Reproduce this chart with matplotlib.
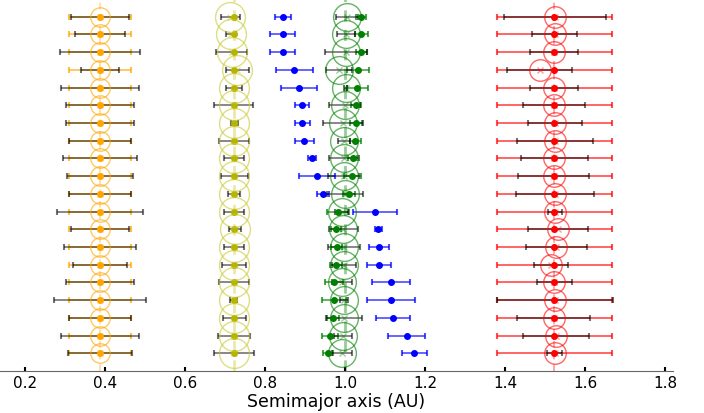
import numpy as np
import matplotlib
matplotlib.use('Agg')
import matplotlib.pyplot as plt

# true semimajor axes (AU)
a_true = {'Mercury': 0.3875, 'Venus': 0.7225, 'Earth': 1.0, 'Mars': 1.5233}

# Mercury: fitted centre is on the true value, prior bar +-20%
merc_prior = 0.0775
merc_fit_err = [0.0715, 0.0615, 0.0995, 0.0475, 0.098, 0.086, 0.085, 0.077, 0.0915, 0.0815,
                0.0775, 0.1085, 0.072, 0.0905, 0.068, 0.0855, 0.1145, 0.0775, 0.098, 0.081]

# Venus
venus_fit = [0.7133, 0.7146, 0.7167, 0.7308, 0.7213, 0.7213, 0.7229, 0.7225, 0.723, 0.723,
             0.7217, 0.723, 0.7238, 0.7225, 0.7225, 0.7225, 0.722, 0.7233, 0.722, 0.723]
venus_fit_err = [0.023, 0.012, 0.038, 0.029, 0.02, 0.048, 0.009, 0.037, 0.025, 0.034,
                 0.015, 0.025, 0.015, 0.024, 0.03, 0.037, 0.009, 0.029, 0.04, 0.05]

# extra (blue) body
blue_a = [0.844, 0.844, 0.844, 0.873, 0.885, 0.893, 0.893, 0.898, 0.918, 0.93,
          0.944, 1.075, 1.083, 1.085, 1.085, 1.115, 1.115, 1.12, 1.154, 1.173]
blue_err = [0.02, 0.031, 0.032, 0.046, 0.044, 0.0175, 0.019, 0.024, 0.01, 0.044,
            0.015, 0.055, 0.009, 0.025, 0.029, 0.0475, 0.061, 0.043, 0.047, 0.031]

# Earth
earth_a = [1.039, 1.041, 1.041, 1.033, 1.031, 1.0275, 1.0275, 1.026, 1.019, 1.018,
           1.01, 0.983, 0.9775, 0.979, 0.9775, 0.973, 0.9725, 0.971, 0.9625, 0.958]
earth_err = [0.0125, 0.016, 0.014, 0.027, 0.026, 0.012, 0.016, 0.013, 0.012, 0.021,
             0.015, 0.027, 0.012, 0.014, 0.014, 0.022, 0.03, 0.015, 0.02, 0.013]
earth_fit = [1.005, 1.0033, 1.0017, 0.985, 1.0017, 0.999, 0.996, 0.9975, 0.9983, 0.9967,
             1.0, 0.9917, 0.9958, 0.9983, 0.9975, 0.9925, 0.9975, 0.9975, 0.9958, 0.9933]
earth_fit_err = [0.028, 0.0225, 0.0525, 0.033, 0.004, 0.039, 0.05, 0.015, 0.0375, 0.039,
                 0.045, 0.016, 0.037, 0.04, 0.03, 0.025, 0.01, 0.046, 0.0225, 0.025]

# Mars
mars_prior = 0.143
mars_fit = [1.5246, 1.5242, 1.5225, 1.4867, 1.5233, 1.5225, 1.5242, 1.5242, 1.5233, 1.5221,
            1.5246, 1.5242, 1.5317, 1.5279, 1.5142, 1.5233, 1.525, 1.5217, 1.5275, 1.5238]
mars_fit_err = [0.127, 0.057, 0.06, 0.0817, 0.06, 0.0767, 0.0675, 0.095, 0.0833, 0.0888,
                0.098, 0.0175, 0.075, 0.076, 0.0425, 0.043, 0.146, 0.091, 0.083, 0.018]

n = len(blue_a)
y = np.arange(n, 0, -1)

fig = plt.figure(figsize=(7.04, 4.14), dpi=100)
ax = fig.add_axes([0, 1 - 372 / 414., 673 / 704., 372 / 414.])

def planet(true, col, fit, fit_err, ms, prior=None, dots=None, lcol=None, lw=1.2):
    lcol = lcol or col
    ax.axvline(true, color=lcol, ls=(0, (4, 3)), lw=lw, alpha=0.4, zorder=1)
    if dots is None:
        dots = np.full(n, true)
    if prior is not None:
        ax.errorbar(dots, y, xerr=prior, fmt='none', ecolor=col, elinewidth=1.2,
                    capsize=2.5, capthick=1.5, alpha=0.7, zorder=2)
    ax.errorbar(fit, y, xerr=fit_err, fmt='none', ecolor='k', elinewidth=1.2,
                capsize=2.5, capthick=1.5, alpha=0.55, zorder=3)
    ax.plot(fit, y, 'x', color=col, ms=4, alpha=0.4, zorder=3)
    ax.plot(dots, y, 'o', color=col, mec=col, ms=4, zorder=4)
    ax.plot(fit, y, 'o', mfc='none', mec=lcol, mew=1, ms=ms, alpha=0.6, zorder=5)

planet(a_true['Mercury'], 'orange', np.full(n, a_true['Mercury']), merc_fit_err, 14,
       prior=merc_prior)
planet(a_true['Venus'], '#b5b500', venus_fit, venus_fit_err, 21.5, lcol='#c8c830', lw=2)

ax.errorbar(blue_a, y, xerr=blue_err, fmt='none', ecolor='b', elinewidth=1.2,
            capsize=2.5, capthick=1.5, alpha=0.7, zorder=2)
ax.plot(blue_a, y, 'o', color='b', ms=4, zorder=4)

planet(a_true['Earth'], 'g', earth_fit, earth_fit_err, 20, prior=earth_err,
       dots=earth_a, lw=2)
planet(a_true['Mars'], 'r', mars_fit, mars_fit_err, 15.5, prior=mars_prior)

ax.set_xlim(0.1375, 1.82)
ax.set_ylim(0, 21)
for s in ['left', 'right', 'top']:
    ax.spines[s].set_visible(False)
ax.spines['bottom'].set_color('0.4')
ax.set_yticks([])
ax.set_xticks(np.arange(0.2, 1.81, 0.2))
ax.tick_params(axis='x', direction='in', length=3, width=1.5, labelsize=11, pad=3)
ax.set_xlabel('Semimajor axis (AU)', fontsize=12.5, labelpad=1)

fig.savefig('out.png', dpi=100)
